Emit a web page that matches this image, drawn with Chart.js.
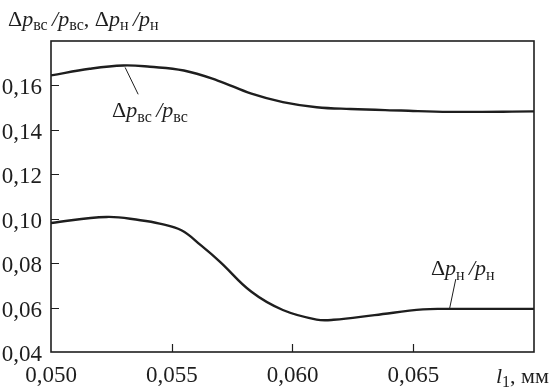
<!DOCTYPE html>
<html>
<head>
<meta charset="utf-8">
<script src="https://cdn.jsdelivr.net/npm/chart.js@4.4.1/dist/chart.umd.min.js"></script>
<style>
  html, body { margin: 0; padding: 0; background: #fff; }
  #wrap { width: 555px; height: 388px; }
</style>
</head>
<body>
<div id="wrap"><canvas id="chart"></canvas></div>
<script>
// l1, mm
const lengthVals = [0.0500, 0.0516, 0.0530, 0.0541, 0.0555, 0.0569, 0.0583, 0.0596, 0.0610, 0.0624, 0.0645, 0.0665, 0.0700];
// dp_vs / p_vs
const relVs = [0.1645, 0.1675, 0.1690, 0.1684, 0.1667, 0.1622, 0.1563, 0.1525, 0.1502, 0.1494, 0.1487, 0.1481, 0.1483];

const lengthValsN = [0.0500, 0.0523, 0.0537, 0.0545, 0.0554, 0.0562, 0.0570, 0.0583, 0.0596, 0.0610, 0.0617, 0.0634, 0.0654, 0.0665, 0.0700];
// dp_n / p_n
const relN = [0.0981, 0.1008, 0.0993, 0.0978, 0.0948, 0.0881, 0.0806, 0.0671, 0.0589, 0.0546, 0.0545, 0.0566, 0.0592, 0.0594, 0.0594];

const xTicks = [0.050, 0.055, 0.060, 0.065, 0.070];
const yTicks = [0.04, 0.06, 0.08, 0.10, 0.12, 0.14, 0.16, 0.18];

const INK = '#1e1e1e';
const SERIF = '"Liberation Serif", "DejaVu Serif", serif';

// callouts: leader from curve point to label, label anchored at its baseline-left
const callouts = [
  { from: [0.05307, 0.1681], to: [0.05361, 0.1560], at: [0.05253, 0.1456],
    parts: [['Δ', ''], ['p', 'i'], ['вс', 's'], ['\u2009', ''], ['/', 'i'], ['p', 'i'], ['вс', 's']] },
  { from: [0.06676, 0.0728], to: [0.06651, 0.0598], at: [0.06573, 0.0746],
    parts: [['Δ', ''], ['p', 'i'], ['н', 's'], ['\u2009', ''], ['/', 'i'], ['p', 'i'], ['н', 's']] }
];

const yTitle = [['Δ', ''], ['p', 'i'], ['вс', 's'], ['\u2009', ''], ['/', 'i'], ['p', 'i'], ['вс', 's'], [', ', ''],
                ['Δ', ''], ['p', 'i'], ['н', 's'], ['\u2009', ''], ['/', 'i'], ['p', 'i'], ['н', 's']];
const xTitle = [['l', 'i'], ['1', 's'], [', мм', '']];

function fmt(v, d) { return v.toFixed(d).replace('.', ','); }

// draw mixed italic / subscript text, returns end x
function drawRich(ctx, x, y, parts, size) {
  ctx.textBaseline = 'alphabetic';
  ctx.textAlign = 'left';
  for (const [t, st] of parts) {
    let sz = size, dy = 0, style = '';
    if (st === 'i') style = 'italic ';
    if (st === 's') { sz = Math.round(size * 0.74); dy = size * 0.2; }
    ctx.font = style + sz + 'px ' + SERIF;
    ctx.fillText(t, x, y + dy);
    x += ctx.measureText(t).width;
  }
  return x;
}

const framePlugin = {
  id: 'frame',
  afterDatasetsDraw(chart) {
    const { ctx, chartArea: a, scales } = chart;
    const xs = scales.x, ys = scales.y;
    ctx.save();
    ctx.strokeStyle = INK;
    ctx.fillStyle = INK;
    ctx.lineWidth = 1.6;
    ctx.strokeRect(a.left, a.top, a.right - a.left, a.bottom - a.top);

    // inward ticks
    ctx.lineWidth = 1.2;
    ctx.beginPath();
    yTicks.slice(1, -1).forEach(v => {
      const py = Math.round(ys.getPixelForValue(v)) + 0.5;
      ctx.moveTo(a.left, py); ctx.lineTo(a.left + 8, py);
    });
    xTicks.slice(1, -1).forEach(v => {
      const px = Math.round(xs.getPixelForValue(v)) + 0.5;
      ctx.moveTo(px, a.bottom); ctx.lineTo(px, a.bottom - 8);
    });
    ctx.stroke();

    // callouts
    ctx.lineWidth = 1;
    callouts.forEach(c => {
      ctx.beginPath();
      ctx.moveTo(xs.getPixelForValue(c.from[0]), ys.getPixelForValue(c.from[1]));
      ctx.lineTo(xs.getPixelForValue(c.to[0]), ys.getPixelForValue(c.to[1]));
      ctx.stroke();
      drawRich(ctx, xs.getPixelForValue(c.at[0]), ys.getPixelForValue(c.at[1]), c.parts, 22);
    });

    // axis titles
    drawRich(ctx, 8, 26, yTitle, 22);
    drawRich(ctx, 496, 383, xTitle, 22);
    ctx.restore();
  }
};

const ctx = document.getElementById('chart').getContext('2d');
new Chart(ctx, {
  type: 'line',
  data: {
    datasets: [
      { data: lengthVals.map((x, i) => ({ x, y: relVs[i] })) },
      { data: lengthValsN.map((x, i) => ({ x, y: relN[i] })) }
    ]
  },
  options: {
    responsive: true,
    maintainAspectRatio: false,
    animation: false,
    events: [],
    layout: { padding: { top: 41, right: 21, left: 0, bottom: 0 } },
    elements: {
      line: { borderColor: INK, borderWidth: 2.4, tension: 0.4, fill: false },
      point: { radius: 0 }
    },
    plugins: { legend: { display: false }, tooltip: { enabled: false } },
    scales: {
      x: {
        type: 'linear', min: 0.05, max: 0.07,
        afterBuildTicks: s => { s.ticks = xTicks.map(v => ({ value: v })); },
        afterFit: s => { s.height = 36; },
        grid: { display: false, drawTicks: false },
        border: { display: false },
        ticks: {
          color: INK, padding: 10, maxRotation: 0, autoSkip: false,
          font: { family: SERIF, size: 23 },
          callback: v => (v >= 0.0699 ? '' : fmt(v, 3))
        }
      },
      y: {
        min: 0.04, max: 0.18,
        afterBuildTicks: s => { s.ticks = yTicks.map(v => ({ value: v })); },
        afterFit: s => { s.width = 51; },
        grid: { display: false, drawTicks: false },
        border: { display: false },
        ticks: {
          color: INK, padding: 9, labelOffset: 3, autoSkip: false,
          font: { family: SERIF, size: 23 },
          callback: v => (v >= 0.179 ? '' : fmt(v, 2))
        }
      }
    }
  },
  plugins: [framePlugin]
});
</script>
</body>
</html>
